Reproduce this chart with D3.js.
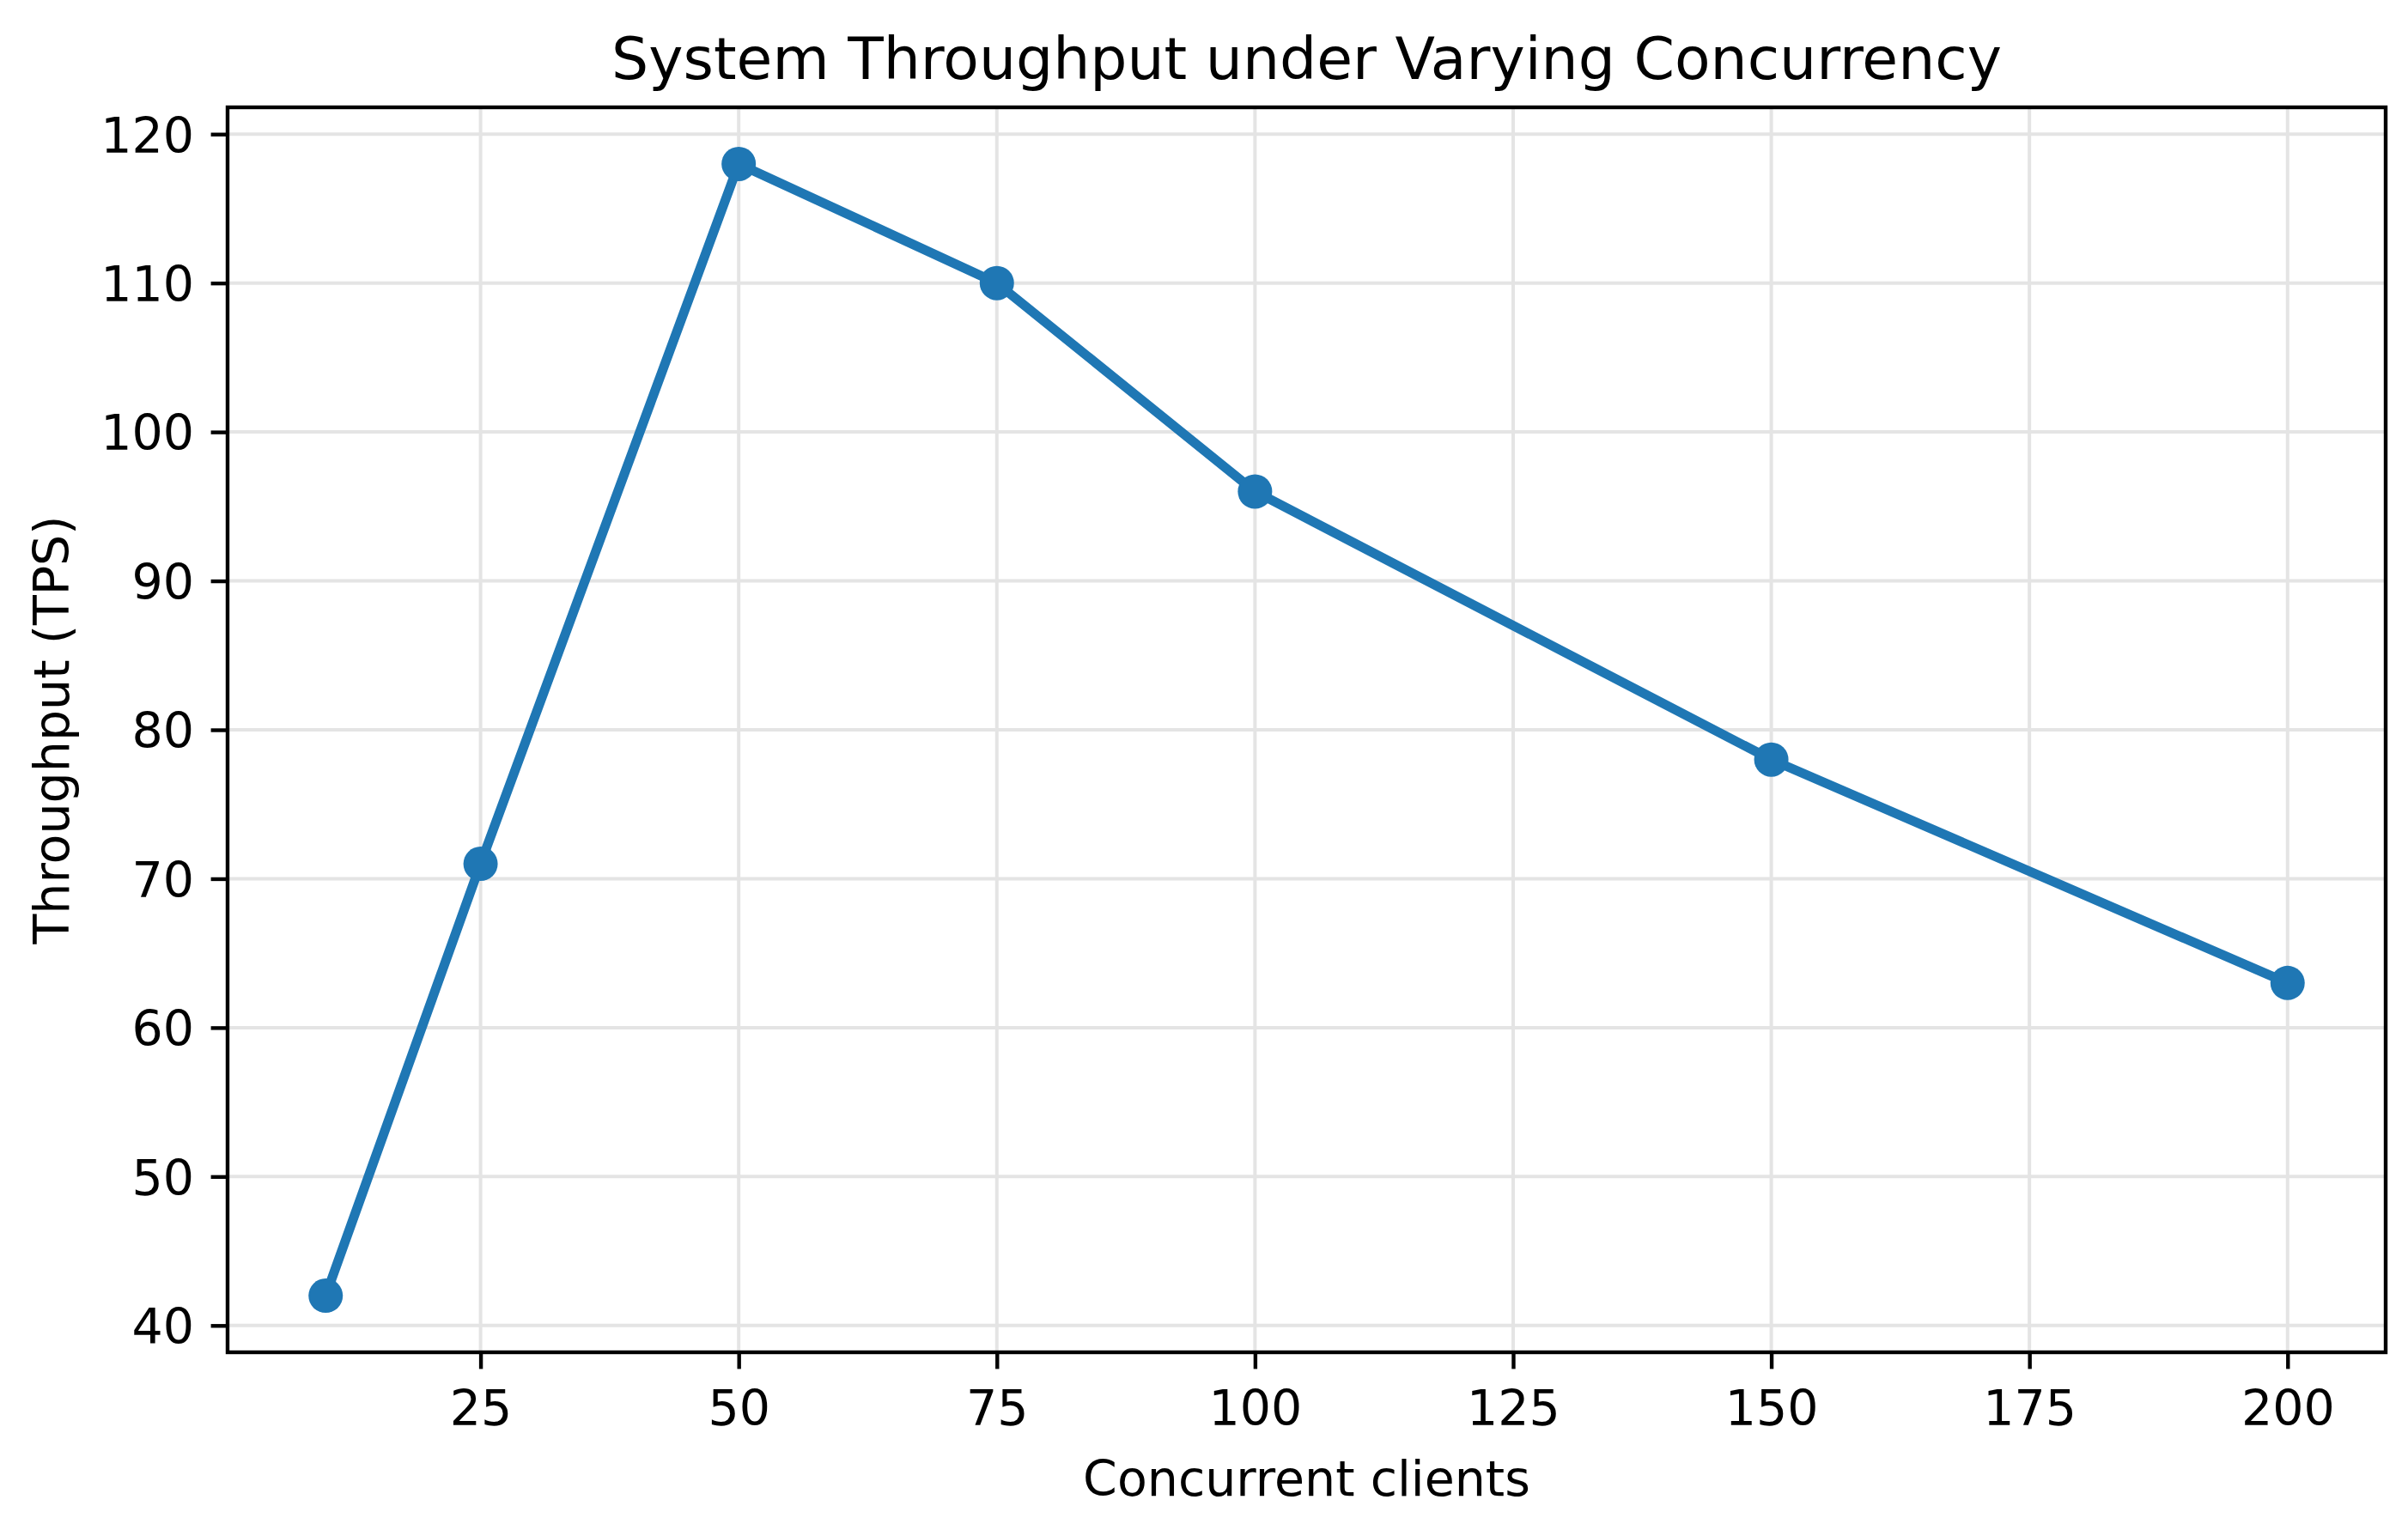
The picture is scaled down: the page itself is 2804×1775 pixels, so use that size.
<!DOCTYPE html>
<html lang="en">
<head>
<meta charset="utf-8">
<title>System Throughput under Varying Concurrency</title>
<script src="https://cdn.jsdelivr.net/npm/d3@7"></script>
<style>
  body { margin: 0; background: #fff; }
  text { font-family: "DejaVu Sans", sans-serif; fill: #000; }
</style>
</head>
<body>
<script>
// data
var clients = [10, 25, 50, 75, 100, 150, 200];
var throughput = [42, 71, 118, 110, 96, 78, 63];
var xTicks = [25, 50, 75, 100, 125, 150, 175, 200];
var yTicks = [40, 50, 60, 70, 80, 90, 100, 110, 120];

var W = 2804, H = 1775;
// plot box (note: "top" is a reserved window prop, so use pTop etc.)
var pLeft = 265, pRight = 2778, pTop = 125, pBottom = 1575;

var svg = d3.select("body").append("svg")
  .attr("width", W)
  .attr("height", H);

svg.append("rect").attr("width", W).attr("height", H).attr("fill", "#fff");

// matplotlib-like 5% margins
var xPad = (d3.max(clients) - d3.min(clients)) * 0.05;
var yPad = (d3.max(throughput) - d3.min(throughput)) * 0.05;

var x = d3.scaleLinear()
  .domain([d3.min(clients) - xPad, d3.max(clients) + xPad])
  .range([pLeft, pRight]);

var y = d3.scaleLinear()
  .domain([d3.min(throughput) - yPad, d3.max(throughput) + yPad])
  .range([pBottom, pTop]);

// grid
var grid = svg.append("g").attr("stroke", "#e4e4e4").attr("stroke-width", 4);
grid.selectAll("line.gx").data(xTicks).enter().append("line")
  .attr("x1", function(d) { return x(d); })
  .attr("x2", function(d) { return x(d); })
  .attr("y1", pTop).attr("y2", pBottom);
grid.selectAll("line.gy").data(yTicks).enter().append("line")
  .attr("y1", function(d) { return y(d); })
  .attr("y2", function(d) { return y(d); })
  .attr("x1", pLeft).attr("x2", pRight);

// axes
var xAxis = svg.append("g")
  .attr("transform", "translate(0," + pBottom + ")")
  .call(d3.axisBottom(x).tickValues(xTicks).tickSize(19.4).tickPadding(0).tickSizeOuter(0));
var yAxis = svg.append("g")
  .attr("transform", "translate(" + pLeft + ",0)")
  .call(d3.axisLeft(y).tickValues(yTicks).tickSize(19.4).tickPadding(0).tickSizeOuter(0));

[xAxis, yAxis].forEach(function(a) {
  a.select(".domain").remove();
  a.selectAll(".tick line").attr("stroke", "#000").attr("stroke-width", 4.4);
  a.selectAll(".tick text").attr("font-size", 57).attr("font-family", "DejaVu Sans");
});
xAxis.selectAll(".tick text").attr("y", 85).attr("dy", 0);
yAxis.selectAll(".tick text").attr("x", -39).attr("dy", "0.365em");

// frame
svg.append("rect")
  .attr("x", pLeft).attr("y", pTop)
  .attr("width", pRight - pLeft).attr("height", pBottom - pTop)
  .attr("fill", "none").attr("stroke", "#000").attr("stroke-width", 4.4);

// line
var line = d3.line()
  .x(function(d, i) { return x(clients[i]); })
  .y(function(d) { return y(d); });

svg.append("path")
  .datum(throughput)
  .attr("d", line)
  .attr("fill", "none")
  .attr("stroke", "#1f77b4")
  .attr("stroke-width", 11)
  .attr("stroke-linejoin", "round");

svg.selectAll("circle.pt")
  .data(throughput)
  .enter().append("circle")
  .attr("class", "pt")
  .attr("cx", function(d, i) { return x(clients[i]); })
  .attr("cy", function(d) { return y(d); })
  .attr("r", 20)
  .attr("fill", "#1f77b4");

// labels
svg.append("text")
  .attr("x", (pLeft + pRight) / 2).attr("y", 92)
  .attr("text-anchor", "middle").attr("font-size", 68)
  .text("System Throughput under Varying Concurrency");

svg.append("text")
  .attr("x", (pLeft + pRight) / 2).attr("y", 1742)
  .attr("text-anchor", "middle").attr("font-size", 57)
  .text("Concurrent clients");

svg.append("text")
  .attr("transform", "translate(80," + (pTop + pBottom) / 2 + ") rotate(-90)")
  .attr("text-anchor", "middle").attr("font-size", 57)
  .text("Throughput (TPS)");
</script>
</body>
</html>
